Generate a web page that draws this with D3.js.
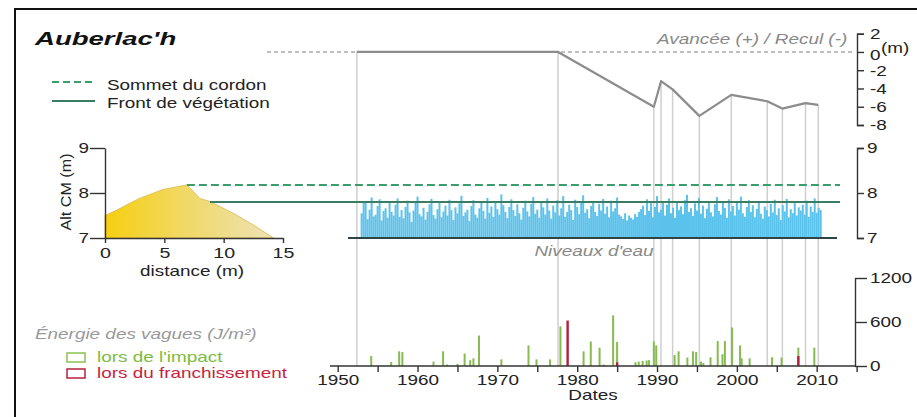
<!DOCTYPE html>
<html><head><meta charset="utf-8">
<script src="https://cdn.jsdelivr.net/npm/d3@7"></script>
<style>
html,body{margin:0;padding:0;background:#fff;}
svg{display:block;font-family:"Liberation Sans",Arial,Helvetica,sans-serif;}
</style></head>
<body>
<svg id="c" width="917" height="417"></svg>
<script>
// ---------- DATA ----------
const title = "Auberlac'h";
// Shoreline advance / retreat (m) at survey dates
const surveyDates = [1952.4, 1977.6, 1989.6, 1990.5, 1991.95, 1995.3, 1999.3, 2003.8, 2005.7, 2008.6, 2010.2];
const surveyShift = [0, 0, -6.0, -3.2, -4.1, -7.0, -4.7, -5.4, -6.2, -5.6, -5.8];
const shiftTicks = [2, 0, -2, -4, -6, -8];

// Beach profile (distance m, altitude m CM)
const profileDist = [0, 1, 2, 2.9, 4, 4.9, 6.3, 6.9, 8.0, 8.85, 10.8, 12.5, 14.2];
const profileAlt  = [7.5, 7.62, 7.76, 7.88, 7.99, 8.08, 8.15, 8.18, 7.88, 7.81, 7.55, 7.29, 7.0];
const distTicks = [0, 5, 10, 15];
const altTicks = [7, 8, 9];
const crestAlt = 8.18;        // Sommet du cordon
const vegFrontAlt = 7.8;      // Front de végétation

// Water levels (m CM), quarterly from 1953.0
const waterStart = 1953.0;
const waterLevels = [
7.55,7.78,7.81,7.42,7.63,7.90,7.48,7.52,7.71,7.86,7.39,7.60,7.66,7.45,7.82,7.58,7.50,7.74,7.88,7.47,
7.62,7.44,7.69,7.83,7.57,7.36,7.61,7.79,7.92,7.53,7.48,7.67,7.41,7.58,7.75,7.87,7.51,7.43,7.64,7.80,
7.46,7.59,7.72,7.50,7.85,7.62,7.40,7.68,7.55,7.77,7.94,7.49,7.57,7.63,7.38,7.71,7.84,7.52,7.45,7.66,
7.78,7.60,7.43,7.89,7.56,7.70,7.47,7.81,7.64,7.52,7.97,7.73,7.58,7.44,7.69,7.86,7.62,7.49,7.75,7.55,
7.41,7.67,7.83,7.59,7.48,7.76,7.91,7.54,7.63,7.45,7.80,7.68,7.52,7.88,7.61,7.43,7.72,7.57,7.84,7.50,
7.66,7.93,7.47,7.58,7.74,7.62,7.40,7.85,7.69,7.53,7.79,7.95,7.56,7.64,7.44,7.71,7.82,7.58,7.49,7.76,
7.61,7.87,7.54,7.70,7.46,7.83,7.59,7.66,7.90,7.52,7.48,7.42,7.55,7.39,7.50,7.45,7.41,7.53,7.47,7.58,
7.64,7.72,7.51,7.86,7.60,7.78,7.46,7.69,7.93,7.57,7.63,7.81,7.50,7.74,7.88,7.55,7.67,7.45,7.79,7.62,
7.70,7.53,7.84,7.96,7.58,7.66,7.49,7.77,7.61,7.89,7.54,7.72,7.44,7.65,7.82,7.57,7.48,7.75,7.91,7.60,
7.52,7.80,7.67,7.45,7.86,7.59,7.71,7.50,7.78,7.63,7.92,7.55,7.47,7.69,7.84,7.58,7.73,7.46,7.65,7.81,
7.54,7.43,7.70,7.62,7.48,7.76,7.57,7.85,7.51,7.66,7.40,7.73,7.59,7.87,7.46,7.64,7.55,7.79,7.50,7.68,
7.61,7.74,7.52,7.83,7.47,7.70,7.58,7.88,7.56,7.67,7.62
];

// Wave energy (J/m²)
const impactDates  = [1954.2,1956.7,1957.7,1958.1,1962.0,1963.2,1963.7,1965.0,1965.9,1966.6,1967.0,1967.7,1970.5,1973.9,1974.9,1976.6,1977.9,1980.8,1981.7,1982.8,1983.3,1984.5,1985.0,1987.3,1987.7,1988.2,1988.7,1989.0,1989.6,1989.9,1992.2,1992.7,1993.8,1994.5,1994.9,1995.5,1995.8,1996.7,1997.6,1998.2,1998.5,1999.4,2000.4,2000.6,2001.6,2004.4,2005.6,2007.7,2009.7];
const impactEnergy = [135,55,200,190,60,200,20,30,170,80,105,415,90,280,90,90,540,200,335,250,20,690,330,50,60,70,75,80,335,280,150,200,115,200,190,60,40,120,340,160,340,525,280,105,105,120,115,250,250];
const overtopDates  = [1978.8, 1985.0, 2007.7];
const overtopEnergy = [620, 50, 135];
const energyTicks = [0, 600, 1200];
const yearTicks = [1950,1955,1960,1965,1970,1975,1980,1985,1990,1995,2000,2005,2010,2015];

// ---------- DRAW ----------
const svg = d3.select("#c");
const SX = 1.35; // horizontal stretch of the original figure's lettering
const fmt = d => String(d);

function txt(g, x, y, s, o = {}) {
  const t = g.append("text")
    .attr("transform", `translate(${x},${y}) scale(${o.sx || SX},1)`)
    .attr("font-size", o.size || 14)
    .attr("text-anchor", o.anchor || "start")
    .attr("fill", o.fill || "#222")
    .text(s);
  if (o.weight) t.attr("font-weight", o.weight);
  if (o.style) t.attr("font-style", o.style);
  return t;
}

svg.append("rect").attr("width", 917).attr("height", 417).attr("fill", "#fff");
// frame
svg.append("path").attr("d", "M15,417V9H917").attr("fill", "none").attr("stroke", "#111").attr("stroke-width", 2);

// scales
const xT = d3.scaleLinear().domain([1950, 2010]).range([337.7, 816.7]);
const yAlt = d3.scaleLinear().domain([7, 9]).range([238, 148]);
const yShift = d3.scaleLinear().domain([-8, 2]).range([125, 33.7]);
const yE = d3.scaleLinear().domain([0, 1200]).range([366, 278]);
const xD = d3.scaleLinear().domain([0, 15]).range([105, 283]);

function styleAxis(g) {
  g.selectAll("path,line").attr("stroke", "#333").attr("stroke-width", 1.4);
  g.selectAll("text").attr("font-size", 14).attr("fill", "#222")
    .attr("font-family", "Liberation Sans, Arial, sans-serif");
}

// Title
txt(svg, 35, 45, title, {size: 19, weight: "bold", style: "italic", sx: 1.45, fill: "#111"});

// Legend (top left)
svg.append("line").attr("x1", 52).attr("x2", 95).attr("y1", 82).attr("y2", 82)
  .attr("stroke", "#3a9d6a").attr("stroke-width", 2).attr("stroke-dasharray", "7,4");
txt(svg, 107, 90, "Sommet du cordon");
svg.append("line").attr("x1", 52).attr("x2", 95).attr("y1", 101).attr("y2", 101)
  .attr("stroke", "#3b7d62").attr("stroke-width", 2);
txt(svg, 107, 108, "Front de végétation");

// ---- Top panel: advance / retreat ----
svg.append("line").attr("x1", 267).attr("x2", 852).attr("y1", yShift(0)).attr("y2", yShift(0))
  .attr("stroke", "#aaa").attr("stroke-width", 1.4).attr("stroke-dasharray", "4,3");
txt(svg, 657, 44, "Avancée (+) / Recul (-)", {style: "italic", fill: "#888"});

// vertical survey lines
svg.append("g").selectAll("line").data(surveyDates).join("line")
  .attr("x1", d => xT(d)).attr("x2", d => xT(d))
  .attr("y1", (d, i) => yShift(surveyShift[i])).attr("y2", yE(0))
  .attr("stroke", "#cfcfcf").attr("stroke-width", 1.5);

const shiftLine = d3.line().x(d => xT(d[0])).y(d => yShift(d[1]));
svg.append("path").datum(surveyDates.map((d, i) => [d, surveyShift[i]]))
  .attr("d", shiftLine).attr("fill", "none").attr("stroke", "#8c8c8c").attr("stroke-width", 2.2)
  .attr("stroke-linejoin", "round");

const axShift = svg.append("g").attr("transform", "translate(857,0)")
  .call(d3.axisRight(yShift).tickValues(shiftTicks).tickFormat(fmt).tickSize(7).tickSizeOuter(7));
styleAxis(axShift);
axShift.selectAll("text").attr("x", null).attr("dy", "0.35em")
  .attr("transform", `translate(13,0) scale(${SX},1)`).attr("text-anchor", "start");
axShift.selectAll(".tick").filter(d => d === 0).select("text").attr("dy", "0.55em");
txt(svg, 881, 53, "(m)", {fill: "#222"});

// ---- Middle panel: profile and water levels ----
const defs = svg.append("defs");
const grad = defs.append("linearGradient").attr("id", "sand").attr("x1", "0").attr("x2", "1").attr("y1", "0").attr("y2", "0");
grad.append("stop").attr("offset", "0%").attr("stop-color", "#f6cf0f");
grad.append("stop").attr("offset", "45%").attr("stop-color", "#f1d862");
grad.append("stop").attr("offset", "100%").attr("stop-color", "#ede2b6");

const area = d3.area().x(d => xD(d[0])).y0(yAlt(7)).y1(d => yAlt(d[1]));
svg.append("path").datum(profileDist.map((d, i) => [d, profileAlt[i]]))
  .attr("d", area).attr("fill", "url(#sand)").attr("stroke", "#d8b94a").attr("stroke-width", 0.8);

const axPY = svg.append("g").attr("transform", `translate(${xD(0)},0)`)
  .call(d3.axisLeft(yAlt).tickValues(altTicks).tickFormat(fmt).tickSize(15).tickSizeOuter(0));
styleAxis(axPY);
axPY.selectAll("text").attr("x", null).attr("dy", "0.35em")
  .attr("transform", `translate(-16,0) scale(${SX},1)`).attr("text-anchor", "end");
const axPX = svg.append("g").attr("transform", `translate(0,${yAlt(7)})`)
  .call(d3.axisBottom(xD).tickValues(distTicks).tickFormat(fmt).tickSize(5).tickSizeOuter(0));
styleAxis(axPX);
axPX.selectAll("text").attr("y", null).attr("dy", null)
  .attr("transform", `translate(0,20) scale(1.4,1)`);
txt(svg, 192, 276, "distance (m)", {anchor: "middle"});
svg.append("text").attr("transform", "translate(71,192) rotate(-90)")
  .attr("text-anchor", "middle").attr("font-size", 15).attr("fill", "#222")
  .attr("textLength", 77).attr("lengthAdjust", "spacingAndGlyphs").text("Alt CM (m)");

// water levels
const wData = waterLevels.map((v, i) => [waterStart + i * 0.25, v]);
svg.append("g").selectAll("rect").data(wData).join("rect")
  .attr("x", d => xT(d[0]) - 1).attr("width", 2)
  .attr("y", d => yAlt(d[1])).attr("height", d => yAlt(7) - yAlt(d[1]))
  .attr("fill", "#5bc2ec");

// crest and vegetation lines
svg.append("line").attr("x1", xD(6.9)).attr("x2", 840).attr("y1", yAlt(crestAlt)).attr("y2", yAlt(crestAlt))
  .attr("stroke", "#3a9d6a").attr("stroke-width", 2).attr("stroke-dasharray", "8,4");
svg.append("line").attr("x1", xD(8.85)).attr("x2", 840).attr("y1", yAlt(vegFrontAlt)).attr("y2", yAlt(vegFrontAlt))
  .attr("stroke", "#3b7d62").attr("stroke-width", 2);
svg.append("line").attr("x1", 348).attr("x2", 837).attr("y1", yAlt(7)).attr("y2", yAlt(7))
  .attr("stroke", "#2f4545").attr("stroke-width", 2);

const axAlt = svg.append("g").attr("transform", "translate(857,0)")
  .call(d3.axisRight(yAlt).tickValues(altTicks).tickFormat(fmt).tickSize(7).tickSizeOuter(7));
styleAxis(axAlt);
axAlt.selectAll("text").attr("x", null).attr("dy", "0.35em")
  .attr("transform", `translate(10,0) scale(${SX},1)`).attr("text-anchor", "start");
txt(svg, 594, 256, "Niveaux d'eau", {anchor: "middle", style: "italic", fill: "#888"});

// ---- Bottom panel: wave energy ----
svg.append("g").selectAll("rect").data(impactDates).join("rect")
  .attr("x", d => xT(d) - 1).attr("width", 2)
  .attr("y", (d, i) => yE(impactEnergy[i])).attr("height", (d, i) => yE(0) - yE(impactEnergy[i]))
  .attr("fill", "#86bb52");
svg.append("g").selectAll("rect").data(overtopDates).join("rect")
  .attr("x", d => xT(d) - 1.2).attr("width", 2.4)
  .attr("y", (d, i) => yE(overtopEnergy[i])).attr("height", (d, i) => yE(0) - yE(overtopEnergy[i]))
  .attr("fill", "#b3203f");

svg.append("line").attr("x1", 330).attr("x2", 855).attr("y1", yE(0)).attr("y2", yE(0))
  .attr("stroke", "#333").attr("stroke-width", 1.5);
const axX = svg.append("g").attr("transform", `translate(0,${yE(0)})`)
  .call(d3.axisBottom(xT).tickValues(yearTicks).tickFormat(d => d % 10 === 0 ? String(d) : "").tickSize(6).tickSizeOuter(0));
styleAxis(axX);
axX.select(".domain").remove();
axX.selectAll("text").attr("y", null).attr("dy", null)
  .attr("transform", `translate(0,19) scale(${SX},1)`);
txt(svg, 593, 400, "Dates", {anchor: "middle"});

const axE = svg.append("g").attr("transform", "translate(855,0)")
  .call(d3.axisRight(yE).tickValues(energyTicks).tickFormat(fmt).tickSize(12).tickSizeOuter(0));
styleAxis(axE);
axE.selectAll("text").attr("x", null).attr("dy", "0.35em")
  .attr("transform", `translate(15,0) scale(${SX},1)`).attr("text-anchor", "start");

// Energy legend
txt(svg, 35, 339, "Énergie des vagues (J/m²)", {style: "italic", fill: "#999"});
svg.append("rect").attr("x", 67).attr("y", 353).attr("width", 18).attr("height", 9)
  .attr("fill", "#fff").attr("stroke", "#8cc152").attr("stroke-width", 1.5);
txt(svg, 97, 362, "lors de l'impact", {fill: "#7dbb3e"});
svg.append("rect").attr("x", 67).attr("y", 369).attr("width", 18).attr("height", 9)
  .attr("fill", "#fff").attr("stroke", "#b3203f").attr("stroke-width", 1.5);
txt(svg, 97, 378, "lors du franchissement", {fill: "#c91f3f"});
</script>
</body></html>
